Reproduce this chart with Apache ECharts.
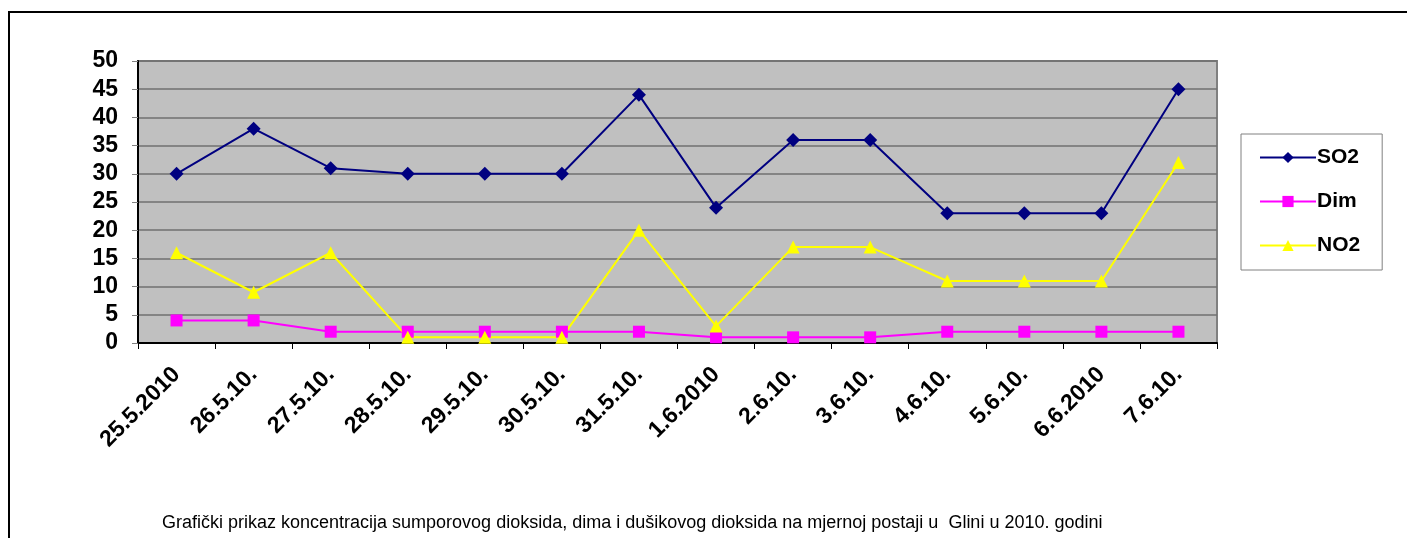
<!DOCTYPE html>
<html>
<head>
<meta charset="utf-8">
<script src="https://cdn.jsdelivr.net/npm/echarts@6/dist/echarts.min.js"></script>
<style>html,body{margin:0;padding:0;background:#fff;}#c{width:1407px;height:538px;}</style>
</head>
<body>
<div id="c"></div>
<script>
var categories = ['25.5.2010','26.5.10.','27.5.10.','28.5.10.','29.5.10.','30.5.10.','31.5.10.','1.6.2010','2.6.10.','3.6.10.','4.6.10.','5.6.10.','6.6.2010','7.6.10.'];
var so2 = [30,38,31,30,30,30,44,24,36,36,23,23,23,45];
var dim = [4,4,2,2,2,2,2,1,1,1,2,2,2,2];
var no2 = [16,9,16,1,1,1,20,3,17,17,11,11,11,32];
var yTicks = {min:0, max:50, interval:5};
var caption = 'Grafički prikaz koncentracija sumporovog dioksida, dima i dušikovog dioksida na mjernoj postaji u  Glini u 2010. godini';

var chart = echarts.init(document.getElementById('c'), null, {renderer:'canvas'});
var font = 'Arial, "Liberation Sans", sans-serif';
chart.setOption({
  animation:false,
  backgroundColor:'#fff',
  title:{text:caption, left:157, top:509, textStyle:{fontFamily:font, fontSize:18, fontWeight:'normal', color:'#000'}},
  grid:{left:138, right:190, top:61, bottom:195, show:true, backgroundColor:'#C0C0C0', borderColor:'#808080', borderWidth:2},
  legend:{
    orient:'vertical', left:1241, top:134, width:141,
    padding:[13,22,14,18], itemGap:23, itemWidth:56, itemHeight:14,
    borderColor:'#808080', borderWidth:1, backgroundColor:'#fff',
    textStyle:{fontFamily:font, fontSize:21, fontWeight:'bold', color:'#000', padding:[0,0,0,-4]},
    data:['SO2','Dim','NO2']
  },
  xAxis:{
    type:'category', data:categories, boundaryGap:true,
    axisLine:{lineStyle:{color:'#000', width:2}},
    axisTick:{show:true, length:6, lineStyle:{color:'#000', width:1}},
    axisLabel:{rotate:45, margin:28, fontFamily:font, fontSize:23, fontWeight:'bold', color:'#000'},
    splitLine:{show:false}
  },
  yAxis:{
    type:'value', min:yTicks.min, max:yTicks.max, interval:yTicks.interval,
    axisLine:{show:true, lineStyle:{color:'#000', width:2}},
    axisTick:{show:true, length:6, lineStyle:{color:'#808080'}},
    axisLabel:{margin:20, fontFamily:font, fontSize:23, fontWeight:'bold', color:'#000'},
    splitLine:{show:true, lineStyle:{color:'#707070', width:1.5}}
  },
  series:[
    {name:'SO2', type:'line', data:so2, symbol:'diamond', symbolSize:14, itemStyle:{color:'#000080'}, lineStyle:{color:'#000080', width:2}},
    {name:'Dim', type:'line', data:dim, symbol:'rect', symbolSize:12, itemStyle:{color:'#FF00FF'}, lineStyle:{color:'#FF00FF', width:2}},
    {name:'NO2', type:'line', data:no2, symbol:'triangle', symbolSize:13, itemStyle:{color:'#FFFF00'}, lineStyle:{color:'#FFFF00', width:2}}
  ],
  graphic:[
    {type:'line', shape:{x1:8, y1:12, x2:1407, y2:12}, style:{stroke:'#000', lineWidth:2}, silent:true},
    {type:'line', shape:{x1:9, y1:11, x2:9, y2:538}, style:{stroke:'#000', lineWidth:2}, silent:true}
  ]
});
</script>
</body>
</html>
